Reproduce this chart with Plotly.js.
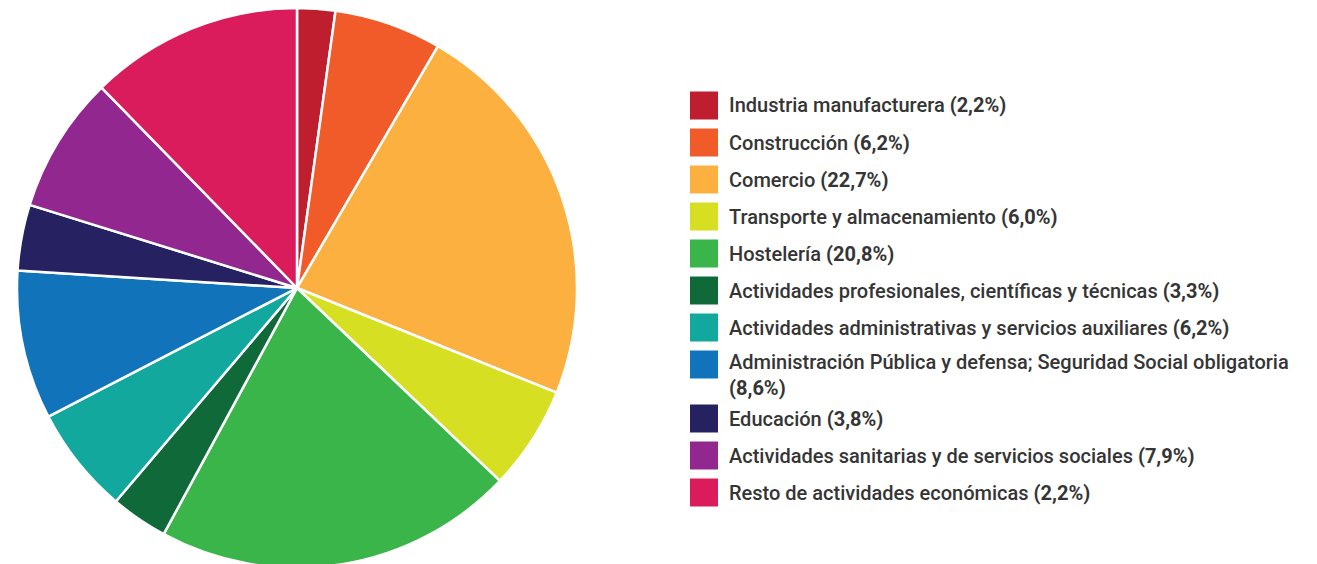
<!DOCTYPE html>
<html>
<head>
<meta charset="utf-8">
<script src="https://cdn.plot.ly/plotly-3.0.1.min.js"></script>
<style>
html,body{margin:0;padding:0;background:#fff;overflow:hidden;}
#chart{width:1317px;height:568px;}
</style>
</head>
<body>
<div id="chart"></div>
<script>
// Data
const categories = [
  "Industria manufacturera",
  "Construcción",
  "Comercio",
  "Transporte y almacenamiento",
  "Hostelería",
  "Actividades profesionales, científicas y técnicas",
  "Actividades administrativas y servicios auxiliares",
  "Administración Pública y defensa; Seguridad Social obligatoria",
  "Educación",
  "Actividades sanitarias y de servicios sociales",
  "Resto de actividades económicas"
];
const sliceValues = [2.2, 6.2, 22.7, 6.0, 20.8, 3.3, 6.2, 8.6, 3.8, 7.9, 12.3];
const legendPercents = ["2,2%", "6,2%", "22,7%", "6,0%", "20,8%", "3,3%", "6,2%", "8,6%", "3,8%", "7,9%", "2,2%"];
const colors = ["#BE1E2D", "#F15A29", "#FBB040", "#D7DF23", "#39B54A", "#0F6939",
                "#13A89E", "#1174BA", "#262262", "#92278F", "#DA1C5C"];

const W = 1317, H = 568;
const cx = 297, cy = 288, R = 280;

const trace = {
  type: 'pie',
  labels: categories,
  values: sliceValues,
  sort: false,
  direction: 'clockwise',
  rotation: 0,
  textinfo: 'none',
  hoverinfo: 'label+percent',
  marker: {colors: colors, line: {color: '#ffffff', width: 2.5}},
  domain: {x: [(cx - R) / W, (cx + R) / W], y: [(H - (cy + R)) / H, (H - (cy - R)) / H]},
  showlegend: false
};

// Custom legend built from the category arrays
const shapes = [];
const annotations = [];
const sqX0 = 690, sqSize = 28, textX = 727;
const legendFont = {family: 'Roboto, sans-serif', size: 20, weight: 500, color: '#353535'};
let yc = 105.5;
const step = 37.0, extraLine = 17;
for (let i = 0; i < categories.length; i++) {
  const wrap = categories[i].length > 55;
  shapes.push({
    type: 'rect', xref: 'paper', yref: 'paper',
    x0: sqX0 / W, x1: (sqX0 + sqSize) / W,
    y0: 1 - (yc - sqSize / 2) / H, y1: 1 - (yc + sqSize / 2) / H,
    fillcolor: colors[i], line: {width: 0}
  });
  const pct = '<b>(' + legendPercents[i] + ')</b>';
  annotations.push({
    xref: 'paper', yref: 'paper',
    x: textX / W, y: 1 - (wrap ? yc + 10 : yc) / H,
    xanchor: 'left', yanchor: 'middle',
    align: 'left', showarrow: false,
    text: categories[i] + (wrap ? '<br>' : ' ') + pct,
    font: legendFont
  });
  yc += step + (wrap ? extraLine : 0);
}

const layout = {
  width: W, height: H,
  margin: {l: 0, r: 0, t: 0, b: 0},
  paper_bgcolor: '#ffffff',
  plot_bgcolor: '#ffffff',
  shapes: shapes,
  annotations: annotations
};

Plotly.newPlot('chart', [trace], layout, {displayModeBar: false, staticPlot: true});
</script>
</body>
</html>
